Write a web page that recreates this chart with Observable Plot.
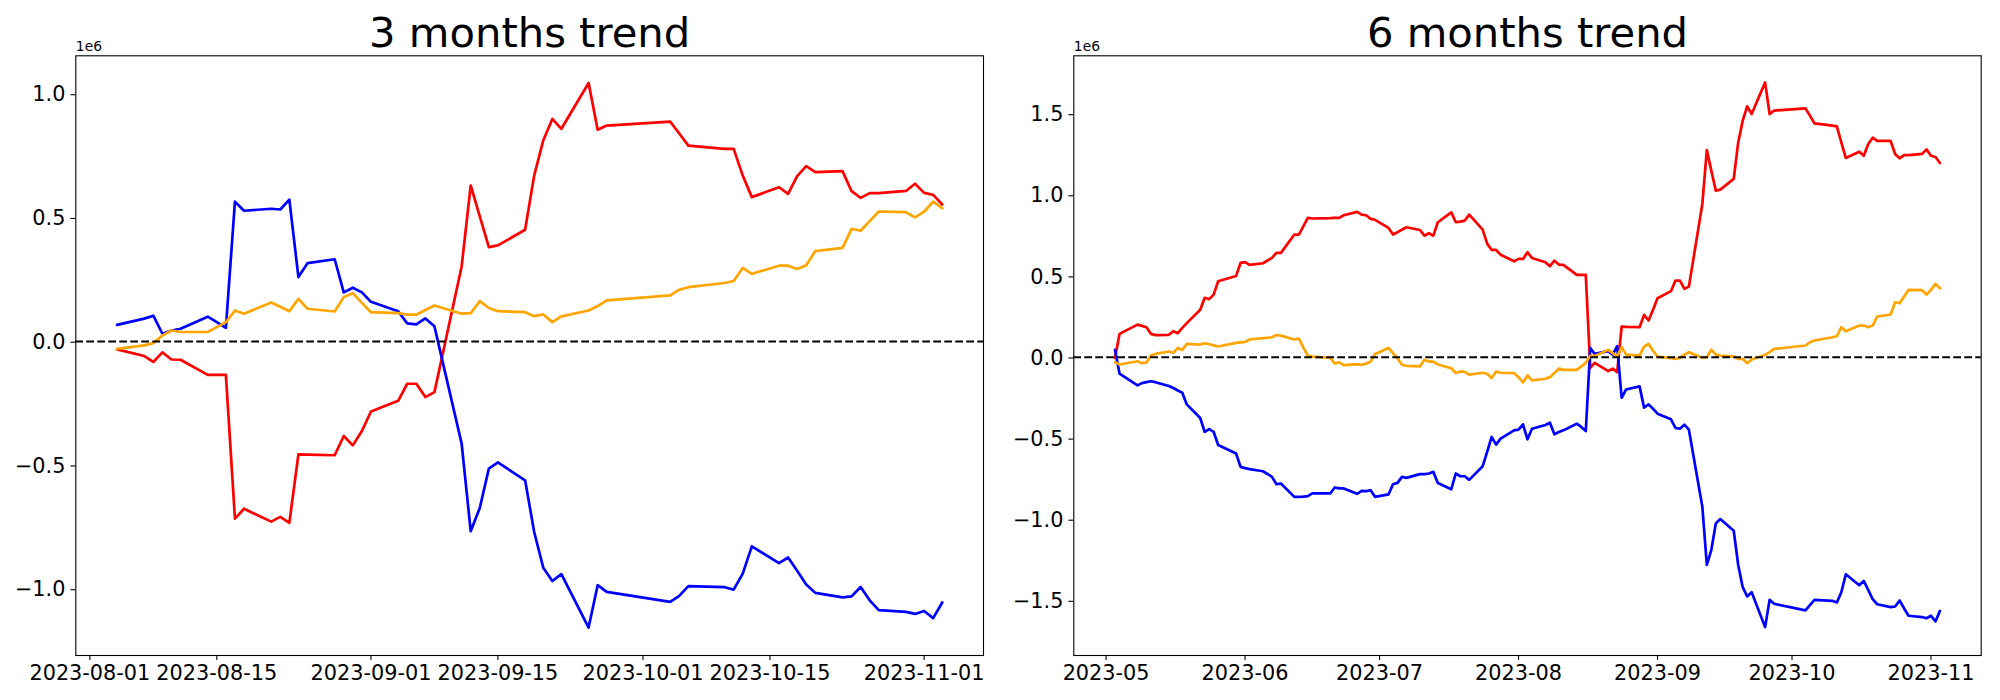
<!DOCTYPE html>
<html>
<head>
<meta charset="utf-8">
<script src="https://cdn.jsdelivr.net/npm/d3@7"></script>
<script src="https://cdn.jsdelivr.net/npm/@observablehq/plot@0.6"></script>
<style>
html, body { margin: 0; padding: 0; background: #ffffff; }
#chart { display: flex; width: 2000px; height: 700px; background: #ffffff; }
#chart svg { display: block; }
</style>
</head>
<body>
<div id="chart"></div>
<script>
// ---------- DATA (values in units of 1e6) ----------
const titles = ["3 months trend", "6 months trend"];
const seriesColors = { red: "#ff0000", blue: "#0000ff", orange: "#ffa500" };

// 3 months panel
const dates3m = ["2023-08-04","2023-08-07","2023-08-08","2023-08-09","2023-08-10","2023-08-11","2023-08-14","2023-08-15","2023-08-16","2023-08-17","2023-08-18","2023-08-21","2023-08-22","2023-08-23","2023-08-24","2023-08-25","2023-08-28","2023-08-29","2023-08-30","2023-08-31",
"2023-09-01","2023-09-04","2023-09-05","2023-09-06","2023-09-07","2023-09-08","2023-09-11","2023-09-12","2023-09-13","2023-09-14","2023-09-15","2023-09-18","2023-09-19","2023-09-20","2023-09-21","2023-09-22","2023-09-25","2023-09-26","2023-09-27",
"2023-10-04","2023-10-05","2023-10-06","2023-10-10","2023-10-11","2023-10-12","2023-10-13","2023-10-16","2023-10-17","2023-10-18","2023-10-19","2023-10-20","2023-10-23","2023-10-24","2023-10-25","2023-10-26","2023-10-27","2023-10-30","2023-10-31",
"2023-11-01","2023-11-02","2023-11-03"];
const red3m = [-0.032,-0.059,-0.083,-0.044,-0.073,-0.074,-0.135,-0.135,-0.135,-0.716,-0.676,-0.728,-0.709,-0.733,-0.456,-0.457,-0.460,-0.382,-0.420,-0.362,
-0.283,-0.240,-0.171,-0.171,-0.225,-0.205,0.303,0.630,0.505,0.381,0.388,0.451,0.670,0.812,0.899,0.859,1.044,0.855,0.872,
0.888,0.840,0.791,0.778,0.778,0.670,0.583,0.623,0.596,0.668,0.708,0.684,0.688,0.607,0.580,0.599,0.599,0.608,0.637,
0.600,0.592,0.553];
const blue3m = [0.067,0.092,0.104,0.031,0.044,0.051,0.100,0.078,0.055,0.565,0.528,0.536,0.533,0.573,0.260,0.316,0.332,0.198,0.217,0.198,
0.160,0.122,0.073,0.069,0.093,0.061,-0.413,-0.767,-0.673,-0.514,-0.489,-0.561,-0.770,-0.914,-0.968,-0.940,-1.156,-0.985,-1.012,
-1.052,-1.028,-0.989,-0.993,-1.003,-0.938,-0.828,-0.896,-0.873,-0.927,-0.982,-1.016,-1.034,-1.030,-0.992,-1.046,-1.086,-1.093,-1.101,
-1.089,-1.118,-1.055];
const orange3m = [-0.030,-0.016,-0.007,0.024,0.044,0.038,0.038,0.058,0.078,0.125,0.112,0.157,0.140,0.122,0.172,0.132,0.121,0.179,0.195,0.156,
0.118,0.114,0.108,0.108,0.127,0.145,0.112,0.114,0.163,0.135,0.122,0.118,0.102,0.109,0.078,0.101,0.125,0.143,0.166,
0.186,0.209,0.219,0.236,0.244,0.297,0.273,0.306,0.306,0.293,0.308,0.365,0.378,0.455,0.447,0.486,0.525,0.522,0.501,
0.524,0.565,0.538];

// 6 months panel
const dates6m = ["2023-05-03","2023-05-04","2023-05-08","2023-05-09","2023-05-10","2023-05-11","2023-05-12","2023-05-15","2023-05-16","2023-05-17","2023-05-18","2023-05-19","2023-05-22","2023-05-23","2023-05-24","2023-05-25","2023-05-26","2023-05-30","2023-05-31",
"2023-06-01","2023-06-02","2023-06-05","2023-06-06","2023-06-07","2023-06-08","2023-06-09","2023-06-12","2023-06-13","2023-06-14","2023-06-15","2023-06-16","2023-06-20","2023-06-21","2023-06-22","2023-06-23","2023-06-26","2023-06-27","2023-06-28","2023-06-29","2023-06-30",
"2023-07-03","2023-07-04","2023-07-05","2023-07-06","2023-07-07","2023-07-10","2023-07-11","2023-07-12","2023-07-13","2023-07-14","2023-07-17","2023-07-18","2023-07-19","2023-07-20","2023-07-21","2023-07-24","2023-07-25","2023-07-26","2023-07-27","2023-07-28","2023-07-31",
"2023-08-01","2023-08-02","2023-08-03","2023-08-04","2023-08-07","2023-08-08","2023-08-09","2023-08-10","2023-08-11","2023-08-14","2023-08-15","2023-08-16","2023-08-17","2023-08-18","2023-08-21","2023-08-22","2023-08-23","2023-08-24","2023-08-25","2023-08-28","2023-08-29","2023-08-30","2023-08-31",
"2023-09-01","2023-09-04","2023-09-05","2023-09-06","2023-09-07","2023-09-08","2023-09-11","2023-09-12","2023-09-13","2023-09-14","2023-09-15","2023-09-18","2023-09-19","2023-09-20","2023-09-21","2023-09-22","2023-09-25","2023-09-26","2023-09-27",
"2023-10-04","2023-10-05","2023-10-06","2023-10-10","2023-10-11","2023-10-12","2023-10-13","2023-10-16","2023-10-17","2023-10-18","2023-10-19","2023-10-20","2023-10-23","2023-10-24","2023-10-25","2023-10-26","2023-10-27","2023-10-30","2023-10-31",
"2023-11-01","2023-11-02","2023-11-03"];
const red6m = [-0.005,0.144,0.201,0.193,0.185,0.144,0.136,0.138,0.160,0.148,0.181,0.210,0.292,0.366,0.358,0.386,0.468,0.501,0.581,
0.586,0.569,0.579,0.596,0.612,0.643,0.643,0.756,0.756,0.807,0.859,0.855,0.857,0.859,0.859,0.875,0.896,0.879,0.875,0.853,0.847,
0.797,0.756,0.770,0.786,0.801,0.784,0.749,0.764,0.749,0.832,0.893,0.832,0.836,0.842,0.879,0.786,0.700,0.661,0.661,0.632,0.591,
0.606,0.606,0.647,0.612,0.585,0.561,0.595,0.571,0.569,0.507,0.507,0.507,-0.066,-0.035,-0.086,-0.070,-0.092,0.189,0.187,0.185,0.261,0.226,0.292,
0.363,0.407,0.472,0.472,0.421,0.435,0.945,1.277,1.150,1.027,1.033,1.099,1.324,1.458,1.546,1.499,1.694,1.499,1.520,
1.534,1.489,1.441,1.427,1.423,1.324,1.228,1.267,1.242,1.314,1.353,1.333,1.333,1.253,1.226,1.246,1.246,1.253,1.281,
1.242,1.234,1.197];
const blue6m = [0.045,-0.102,-0.174,-0.160,-0.154,-0.148,-0.154,-0.178,-0.190,-0.205,-0.219,-0.291,-0.375,-0.461,-0.443,-0.461,-0.541,-0.594,-0.676,
-0.684,-0.690,-0.703,-0.720,-0.738,-0.783,-0.779,-0.861,-0.861,-0.860,-0.857,-0.840,-0.840,-0.803,-0.809,-0.809,-0.842,-0.824,-0.826,-0.820,-0.861,
-0.846,-0.783,-0.775,-0.738,-0.744,-0.721,-0.721,-0.717,-0.707,-0.775,-0.814,-0.717,-0.734,-0.734,-0.756,-0.672,-0.584,-0.492,-0.539,-0.502,-0.451,
-0.447,-0.414,-0.506,-0.441,-0.418,-0.404,-0.475,-0.461,-0.451,-0.410,-0.430,-0.455,0.057,0.020,0.037,0.016,0.068,-0.250,-0.199,-0.180,-0.311,-0.291,-0.318,
-0.348,-0.383,-0.436,-0.441,-0.416,-0.447,-0.922,-1.281,-1.189,-1.025,-0.998,-1.070,-1.281,-1.418,-1.475,-1.449,-1.664,-1.496,-1.520,
-1.561,-1.529,-1.496,-1.502,-1.512,-1.449,-1.338,-1.406,-1.379,-1.434,-1.492,-1.523,-1.541,-1.537,-1.500,-1.549,-1.594,-1.602,-1.609,
-1.594,-1.629,-1.564];
const orange6m = [-0.031,-0.045,-0.025,-0.037,-0.033,0.010,0.020,0.035,0.027,0.057,0.045,0.082,0.078,0.086,0.080,0.073,0.066,0.088,0.091,
0.094,0.109,0.117,0.120,0.123,0.137,0.133,0.109,0.115,0.060,0.010,0.004,-0.004,-0.039,-0.031,-0.049,-0.043,-0.047,-0.040,-0.027,0.020,
0.057,0.025,-0.008,-0.047,-0.053,-0.057,-0.016,-0.027,-0.027,-0.045,-0.068,-0.098,-0.088,-0.090,-0.107,-0.096,-0.102,-0.129,-0.088,-0.096,-0.098,
-0.123,-0.156,-0.113,-0.143,-0.133,-0.123,-0.098,-0.070,-0.078,-0.078,-0.057,-0.035,0.008,0.008,0.045,0.025,0.006,0.061,0.016,0.010,0.065,0.082,0.040,
0.004,-0.006,-0.010,-0.004,0.016,0.031,-0.004,0.000,0.047,0.016,0.010,0.004,-0.010,-0.010,-0.037,-0.014,0.014,0.031,0.051,
0.072,0.092,0.103,0.123,0.129,0.185,0.160,0.195,0.195,0.185,0.195,0.251,0.263,0.339,0.333,0.374,0.415,0.413,0.386,
0.415,0.452,0.425];

// Tick positions and labels
const xTicks3m = ["2023-08-01","2023-08-15","2023-09-01","2023-09-15","2023-10-01","2023-10-15","2023-11-01"];
const xTicks6m = ["2023-05-01","2023-06-01","2023-07-01","2023-08-01","2023-09-01","2023-10-01","2023-11-01"];
const yTicks3m = [-1.0, -0.5, 0.0, 0.5, 1.0];
const yTicks6m = [-1.5, -1.0, -0.5, 0.0, 0.5, 1.0, 1.5];
const yDomain3m = [-1.269, 1.154];
const yDomain6m = [-1.839, 1.858];
const offsetLabel = "1e6";

// ---------- DRAWING ----------
const parse = d3.utcParse("%Y-%m-%d");
const fmtY = d => (d < 0 ? "\u2212" : "") + Math.abs(d).toFixed(1);

function panel(o) {
  const dates = o.dates.map(parse);
  const t0 = +dates[0], t1 = +dates[dates.length - 1];
  const pad = 0.05 * (t1 - t0);
  const rowsOf = vals => dates.map((d, i) => ({ date: d, value: vals[i] }));
  return Plot.plot({
    width: 1000,
    height: 700,
    marginLeft: o.ml,
    marginRight: o.mr,
    marginTop: 55.3,
    marginBottom: 45,
    style: { fontFamily: "'DejaVu Sans', sans-serif", fontSize: "20.8px", color: "#000000", background: "#ffffff", overflow: "visible" },
    x: { type: "utc", domain: [new Date(t0 - pad), new Date(t1 + pad)] },
    y: { domain: o.yDomain },
    marks: [
      Plot.line(rowsOf(o.red), { x: "date", y: "value", stroke: seriesColors.red, strokeWidth: 2.7 }),
      Plot.line(rowsOf(o.blue), { x: "date", y: "value", stroke: seriesColors.blue, strokeWidth: 2.7 }),
      Plot.line(rowsOf(o.orange), { x: "date", y: "value", stroke: seriesColors.orange, strokeWidth: 2.7 }),
      Plot.ruleY([0], { stroke: "#000000", strokeWidth: 2.08, strokeDasharray: "7.7,3.3" }),
      Plot.axisX({ ticks: o.xTicks.map(parse), tickFormat: d3.utcFormat(o.xFormat), tickSize: 4.9, tickPadding: 5, fontSize: 20.8, label: null, strokeWidth: 1.1 }),
      Plot.axisY({ ticks: o.yTicks, tickFormat: fmtY, tickSize: 4.9, tickPadding: 5.5, fontSize: 20.8, label: null, strokeWidth: 1.1, dy: 0.8 }),
      Plot.frame({ stroke: "#000000", strokeWidth: 1.1 }),
      Plot.text([o.title], { text: d => d, frameAnchor: "top", dy: -8.6, lineAnchor: "bottom", fontSize: 41.7, fill: "#000000" }),
      Plot.text([offsetLabel], { text: d => d, frameAnchor: "top-left", textAnchor: "start", lineAnchor: "bottom", dy: -4.6, fontSize: 13.9, fill: "#000000" })
    ]
  });
}

const chart = document.getElementById("chart");
chart.append(panel({
  title: titles[0], dates: dates3m, red: red3m, blue: blue3m, orange: orange3m,
  xTicks: xTicks3m, xFormat: "%Y-%m-%d", yTicks: yTicks3m, yDomain: yDomain3m, ml: 75.3, mr: 17
}));
chart.append(panel({
  title: titles[1], dates: dates6m, red: red6m, blue: blue6m, orange: orange6m,
  xTicks: xTicks6m, xFormat: "%Y-%m", yTicks: yTicks6m, yDomain: yDomain6m, ml: 73.3, mr: 19.3
}));
</script>
</body>
</html>
